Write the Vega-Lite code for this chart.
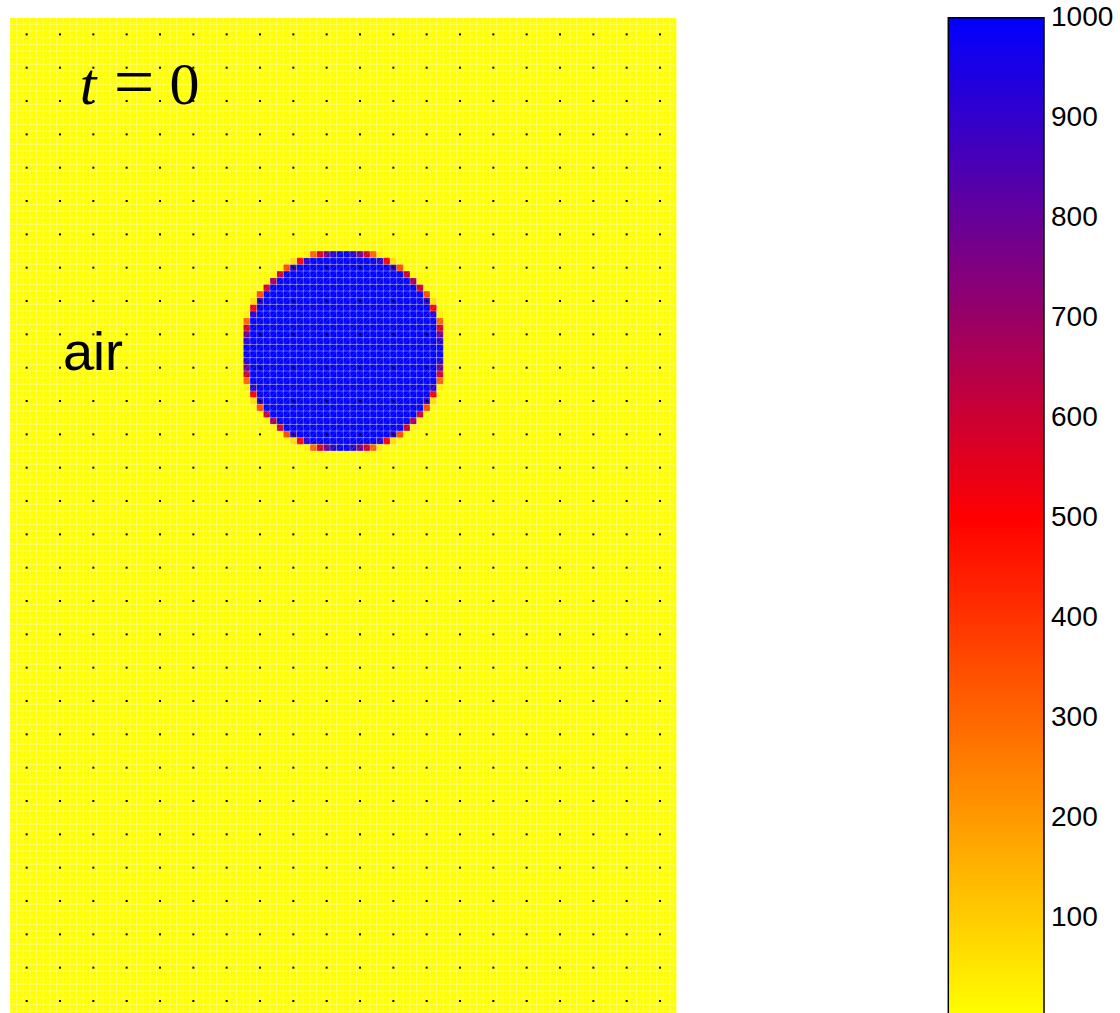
{
"$schema": "https://vega.github.io/schema/vega-lite/v6.json",
"width": 666.67,
"height": 995.3,
"autosize": {"type": "none"},
"padding": {"left": 10, "top": 17.7, "right": 443.33, "bottom": 0},
"background": "white",
"config": {
  "view": {"stroke": null},
  "axis": {"grid": false, "labels": false, "ticks": false, "domain": false}
},
"datasets": {
  "cells": [
    {"x":0,"x2":100,"y":0,"y2":150,"v":1},
    {"x":45,"x2":55,"y":36,"y2":37,"v":1000},
    {"x":43,"x2":57,"y":37,"y2":38,"v":1000},
    {"x":41,"x2":59,"y":38,"y2":39,"v":1000},
    {"x":40,"x2":60,"y":39,"y2":40,"v":1000},
    {"x":39,"x2":61,"y":40,"y2":41,"v":1000},
    {"x":38,"x2":62,"y":41,"y2":42,"v":1000},
    {"x":38,"x2":62,"y":42,"y2":43,"v":1000},
    {"x":37,"x2":63,"y":43,"y2":44,"v":1000},
    {"x":37,"x2":63,"y":44,"y2":45,"v":1000},
    {"x":36,"x2":64,"y":45,"y2":46,"v":1000},
    {"x":36,"x2":64,"y":46,"y2":47,"v":1000},
    {"x":36,"x2":64,"y":47,"y2":48,"v":1000},
    {"x":36,"x2":64,"y":48,"y2":49,"v":1000},
    {"x":36,"x2":64,"y":49,"y2":50,"v":1000},
    {"x":36,"x2":64,"y":50,"y2":51,"v":1000},
    {"x":36,"x2":64,"y":51,"y2":52,"v":1000},
    {"x":36,"x2":64,"y":52,"y2":53,"v":1000},
    {"x":36,"x2":64,"y":53,"y2":54,"v":1000},
    {"x":36,"x2":64,"y":54,"y2":55,"v":1000},
    {"x":37,"x2":63,"y":55,"y2":56,"v":1000},
    {"x":37,"x2":63,"y":56,"y2":57,"v":1000},
    {"x":38,"x2":62,"y":57,"y2":58,"v":1000},
    {"x":38,"x2":62,"y":58,"y2":59,"v":1000},
    {"x":39,"x2":61,"y":59,"y2":60,"v":1000},
    {"x":40,"x2":60,"y":60,"y2":61,"v":1000},
    {"x":41,"x2":59,"y":61,"y2":62,"v":1000},
    {"x":43,"x2":57,"y":62,"y2":63,"v":1000},
    {"x":45,"x2":55,"y":63,"y2":64,"v":1000},
    {"x":64,"x2":65,"y":50,"y2":51,"v":989},{"x":35,"x2":36,"y":50,"y2":51,"v":989},{"x":64,"x2":65,"y":49,"y2":50,"v":989},{"x":35,"x2":36,"y":49,"y2":50,"v":989},
    {"x":50,"x2":51,"y":64,"y2":65,"v":989},{"x":49,"x2":50,"y":64,"y2":65,"v":989},{"x":50,"x2":51,"y":35,"y2":36,"v":989},{"x":49,"x2":50,"y":35,"y2":36,"v":989},
    {"x":64,"x2":65,"y":51,"y2":52,"v":922},{"x":35,"x2":36,"y":51,"y2":52,"v":922},{"x":64,"x2":65,"y":48,"y2":49,"v":922},{"x":35,"x2":36,"y":48,"y2":49,"v":922},
    {"x":51,"x2":52,"y":64,"y2":65,"v":922},{"x":48,"x2":49,"y":64,"y2":65,"v":922},{"x":51,"x2":52,"y":35,"y2":36,"v":922},{"x":48,"x2":49,"y":35,"y2":36,"v":922},
    {"x":64,"x2":65,"y":52,"y2":53,"v":787},{"x":35,"x2":36,"y":52,"y2":53,"v":787},{"x":64,"x2":65,"y":47,"y2":48,"v":787},{"x":35,"x2":36,"y":47,"y2":48,"v":787},
    {"x":52,"x2":53,"y":64,"y2":65,"v":787},{"x":47,"x2":48,"y":64,"y2":65,"v":787},{"x":52,"x2":53,"y":35,"y2":36,"v":787},{"x":47,"x2":48,"y":35,"y2":36,"v":787},
    {"x":64,"x2":65,"y":53,"y2":54,"v":583},{"x":35,"x2":36,"y":53,"y2":54,"v":583},{"x":64,"x2":65,"y":46,"y2":47,"v":583},{"x":35,"x2":36,"y":46,"y2":47,"v":583},
    {"x":53,"x2":54,"y":64,"y2":65,"v":583},{"x":46,"x2":47,"y":64,"y2":65,"v":583},{"x":53,"x2":54,"y":35,"y2":36,"v":583},{"x":46,"x2":47,"y":35,"y2":36,"v":583},
    {"x":64,"x2":65,"y":54,"y2":55,"v":306},{"x":35,"x2":36,"y":54,"y2":55,"v":306},{"x":64,"x2":65,"y":45,"y2":46,"v":306},{"x":35,"x2":36,"y":45,"y2":46,"v":306},
    {"x":54,"x2":55,"y":64,"y2":65,"v":306},{"x":45,"x2":46,"y":64,"y2":65,"v":306},{"x":54,"x2":55,"y":35,"y2":36,"v":306},{"x":45,"x2":46,"y":35,"y2":36,"v":306},
    {"x":63,"x2":64,"y":55,"y2":56,"v":925},{"x":36,"x2":37,"y":55,"y2":56,"v":925},{"x":63,"x2":64,"y":44,"y2":45,"v":925},{"x":36,"x2":37,"y":44,"y2":45,"v":925},
    {"x":55,"x2":56,"y":63,"y2":64,"v":925},{"x":44,"x2":45,"y":63,"y2":64,"v":925},{"x":55,"x2":56,"y":36,"y2":37,"v":925},{"x":44,"x2":45,"y":36,"y2":37,"v":925},
    {"x":64,"x2":65,"y":55,"y2":56,"v":27},{"x":35,"x2":36,"y":55,"y2":56,"v":27},{"x":64,"x2":65,"y":44,"y2":45,"v":27},{"x":35,"x2":36,"y":44,"y2":45,"v":27},
    {"x":55,"x2":56,"y":64,"y2":65,"v":27},{"x":44,"x2":45,"y":64,"y2":65,"v":27},{"x":55,"x2":56,"y":35,"y2":36,"v":27},{"x":44,"x2":45,"y":35,"y2":36,"v":27},
    {"x":63,"x2":64,"y":56,"y2":57,"v":515},{"x":36,"x2":37,"y":56,"y2":57,"v":515},{"x":63,"x2":64,"y":43,"y2":44,"v":515},{"x":36,"x2":37,"y":43,"y2":44,"v":515},
    {"x":56,"x2":57,"y":63,"y2":64,"v":515},{"x":43,"x2":44,"y":63,"y2":64,"v":515},{"x":56,"x2":57,"y":36,"y2":37,"v":515},{"x":43,"x2":44,"y":36,"y2":37,"v":515},
    {"x":62,"x2":63,"y":57,"y2":58,"v":921},{"x":37,"x2":38,"y":57,"y2":58,"v":921},{"x":62,"x2":63,"y":42,"y2":43,"v":921},{"x":37,"x2":38,"y":42,"y2":43,"v":921},
    {"x":57,"x2":58,"y":62,"y2":63,"v":921},{"x":42,"x2":43,"y":62,"y2":63,"v":921},{"x":57,"x2":58,"y":37,"y2":38,"v":921},{"x":42,"x2":43,"y":37,"y2":38,"v":921},
    {"x":63,"x2":64,"y":57,"y2":58,"v":66},{"x":36,"x2":37,"y":57,"y2":58,"v":66},{"x":63,"x2":64,"y":42,"y2":43,"v":66},{"x":36,"x2":37,"y":42,"y2":43,"v":66},
    {"x":57,"x2":58,"y":63,"y2":64,"v":66},{"x":42,"x2":43,"y":63,"y2":64,"v":66},{"x":57,"x2":58,"y":36,"y2":37,"v":66},{"x":42,"x2":43,"y":36,"y2":37,"v":66},
    {"x":62,"x2":63,"y":58,"y2":59,"v":354},{"x":37,"x2":38,"y":58,"y2":59,"v":354},{"x":62,"x2":63,"y":41,"y2":42,"v":354},{"x":37,"x2":38,"y":41,"y2":42,"v":354},
    {"x":58,"x2":59,"y":62,"y2":63,"v":354},{"x":41,"x2":42,"y":62,"y2":63,"v":354},{"x":58,"x2":59,"y":37,"y2":38,"v":354},{"x":41,"x2":42,"y":37,"y2":38,"v":354},
    {"x":61,"x2":62,"y":59,"y2":60,"v":602},{"x":38,"x2":39,"y":59,"y2":60,"v":602},{"x":61,"x2":62,"y":40,"y2":41,"v":602},{"x":38,"x2":39,"y":40,"y2":41,"v":602},
    {"x":59,"x2":60,"y":61,"y2":62,"v":602},{"x":40,"x2":41,"y":61,"y2":62,"v":602},{"x":59,"x2":60,"y":38,"y2":39,"v":602},{"x":40,"x2":41,"y":38,"y2":39,"v":602},
    {"x":60,"x2":61,"y":60,"y2":61,"v":686},{"x":39,"x2":40,"y":60,"y2":61,"v":686},{"x":60,"x2":61,"y":39,"y2":40,"v":686},{"x":39,"x2":40,"y":39,"y2":40,"v":686},
    {"x":61,"x2":62,"y":60,"y2":61,"v":18},{"x":38,"x2":39,"y":60,"y2":61,"v":18},{"x":61,"x2":62,"y":39,"y2":40,"v":18},{"x":38,"x2":39,"y":39,"y2":40,"v":18},
    {"x":60,"x2":61,"y":61,"y2":62,"v":18},{"x":39,"x2":40,"y":61,"y2":62,"v":18},{"x":60,"x2":61,"y":38,"y2":39,"v":18},{"x":39,"x2":40,"y":38,"y2":39,"v":18}
  ],
  "gridx": [
    {"x":0},{"x":1},{"x":2},{"x":3},{"x":4},{"x":5},{"x":6},{"x":7},{"x":8},{"x":9},{"x":10},{"x":11},{"x":12},{"x":13},{"x":14},{"x":15},{"x":16},{"x":17},{"x":18},{"x":19},
    {"x":20},{"x":21},{"x":22},{"x":23},{"x":24},{"x":25},{"x":26},{"x":27},{"x":28},{"x":29},{"x":30},{"x":31},{"x":32},{"x":33},{"x":34},{"x":35},{"x":36},{"x":37},{"x":38},{"x":39},
    {"x":40},{"x":41},{"x":42},{"x":43},{"x":44},{"x":45},{"x":46},{"x":47},{"x":48},{"x":49},{"x":50},{"x":51},{"x":52},{"x":53},{"x":54},{"x":55},{"x":56},{"x":57},{"x":58},{"x":59},
    {"x":60},{"x":61},{"x":62},{"x":63},{"x":64},{"x":65},{"x":66},{"x":67},{"x":68},{"x":69},{"x":70},{"x":71},{"x":72},{"x":73},{"x":74},{"x":75},{"x":76},{"x":77},{"x":78},{"x":79},
    {"x":80},{"x":81},{"x":82},{"x":83},{"x":84},{"x":85},{"x":86},{"x":87},{"x":88},{"x":89},{"x":90},{"x":91},{"x":92},{"x":93},{"x":94},{"x":95},{"x":96},{"x":97},{"x":98},{"x":99},{"x":100}
  ],
  "gridy": [
    {"y":0},{"y":1},{"y":2},{"y":3},{"y":4},{"y":5},{"y":6},{"y":7},{"y":8},{"y":9},{"y":10},{"y":11},{"y":12},{"y":13},{"y":14},{"y":15},{"y":16},{"y":17},{"y":18},{"y":19},
    {"y":20},{"y":21},{"y":22},{"y":23},{"y":24},{"y":25},{"y":26},{"y":27},{"y":28},{"y":29},{"y":30},{"y":31},{"y":32},{"y":33},{"y":34},{"y":35},{"y":36},{"y":37},{"y":38},{"y":39},
    {"y":40},{"y":41},{"y":42},{"y":43},{"y":44},{"y":45},{"y":46},{"y":47},{"y":48},{"y":49},{"y":50},{"y":51},{"y":52},{"y":53},{"y":54},{"y":55},{"y":56},{"y":57},{"y":58},{"y":59},
    {"y":60},{"y":61},{"y":62},{"y":63},{"y":64},{"y":65},{"y":66},{"y":67},{"y":68},{"y":69},{"y":70},{"y":71},{"y":72},{"y":73},{"y":74},{"y":75},{"y":76},{"y":77},{"y":78},{"y":79},
    {"y":80},{"y":81},{"y":82},{"y":83},{"y":84},{"y":85},{"y":86},{"y":87},{"y":88},{"y":89},{"y":90},{"y":91},{"y":92},{"y":93},{"y":94},{"y":95},{"y":96},{"y":97},{"y":98},{"y":99},
    {"y":100},{"y":101},{"y":102},{"y":103},{"y":104},{"y":105},{"y":106},{"y":107},{"y":108},{"y":109},{"y":110},{"y":111},{"y":112},{"y":113},{"y":114},{"y":115},{"y":116},{"y":117},{"y":118},{"y":119},
    {"y":120},{"y":121},{"y":122},{"y":123},{"y":124},{"y":125},{"y":126},{"y":127},{"y":128},{"y":129},{"y":130},{"y":131},{"y":132},{"y":133},{"y":134},{"y":135},{"y":136},{"y":137},{"y":138},{"y":139},
    {"y":140},{"y":141},{"y":142},{"y":143},{"y":144},{"y":145},{"y":146},{"y":147},{"y":148},{"y":149}
  ],
  "diag": [
    {"x":1,"x2":-149},{"x":2,"x2":-148},{"x":3,"x2":-147},{"x":4,"x2":-146},{"x":5,"x2":-145},{"x":6,"x2":-144},{"x":7,"x2":-143},{"x":8,"x2":-142},{"x":9,"x2":-141},{"x":10,"x2":-140},
    {"x":11,"x2":-139},{"x":12,"x2":-138},{"x":13,"x2":-137},{"x":14,"x2":-136},{"x":15,"x2":-135},{"x":16,"x2":-134},{"x":17,"x2":-133},{"x":18,"x2":-132},{"x":19,"x2":-131},{"x":20,"x2":-130},
    {"x":21,"x2":-129},{"x":22,"x2":-128},{"x":23,"x2":-127},{"x":24,"x2":-126},{"x":25,"x2":-125},{"x":26,"x2":-124},{"x":27,"x2":-123},{"x":28,"x2":-122},{"x":29,"x2":-121},{"x":30,"x2":-120},
    {"x":31,"x2":-119},{"x":32,"x2":-118},{"x":33,"x2":-117},{"x":34,"x2":-116},{"x":35,"x2":-115},{"x":36,"x2":-114},{"x":37,"x2":-113},{"x":38,"x2":-112},{"x":39,"x2":-111},{"x":40,"x2":-110},
    {"x":41,"x2":-109},{"x":42,"x2":-108},{"x":43,"x2":-107},{"x":44,"x2":-106},{"x":45,"x2":-105},{"x":46,"x2":-104},{"x":47,"x2":-103},{"x":48,"x2":-102},{"x":49,"x2":-101},{"x":50,"x2":-100},
    {"x":51,"x2":-99},{"x":52,"x2":-98},{"x":53,"x2":-97},{"x":54,"x2":-96},{"x":55,"x2":-95},{"x":56,"x2":-94},{"x":57,"x2":-93},{"x":58,"x2":-92},{"x":59,"x2":-91},{"x":60,"x2":-90},
    {"x":61,"x2":-89},{"x":62,"x2":-88},{"x":63,"x2":-87},{"x":64,"x2":-86},{"x":65,"x2":-85},{"x":66,"x2":-84},{"x":67,"x2":-83},{"x":68,"x2":-82},{"x":69,"x2":-81},{"x":70,"x2":-80},
    {"x":71,"x2":-79},{"x":72,"x2":-78},{"x":73,"x2":-77},{"x":74,"x2":-76},{"x":75,"x2":-75},{"x":76,"x2":-74},{"x":77,"x2":-73},{"x":78,"x2":-72},{"x":79,"x2":-71},{"x":80,"x2":-70},
    {"x":81,"x2":-69},{"x":82,"x2":-68},{"x":83,"x2":-67},{"x":84,"x2":-66},{"x":85,"x2":-65},{"x":86,"x2":-64},{"x":87,"x2":-63},{"x":88,"x2":-62},{"x":89,"x2":-61},{"x":90,"x2":-60},
    {"x":91,"x2":-59},{"x":92,"x2":-58},{"x":93,"x2":-57},{"x":94,"x2":-56},{"x":95,"x2":-55},{"x":96,"x2":-54},{"x":97,"x2":-53},{"x":98,"x2":-52},{"x":99,"x2":-51},{"x":100,"x2":-50},
    {"x":101,"x2":-49},{"x":102,"x2":-48},{"x":103,"x2":-47},{"x":104,"x2":-46},{"x":105,"x2":-45},{"x":106,"x2":-44},{"x":107,"x2":-43},{"x":108,"x2":-42},{"x":109,"x2":-41},{"x":110,"x2":-40},
    {"x":111,"x2":-39},{"x":112,"x2":-38},{"x":113,"x2":-37},{"x":114,"x2":-36},{"x":115,"x2":-35},{"x":116,"x2":-34},{"x":117,"x2":-33},{"x":118,"x2":-32},{"x":119,"x2":-31},{"x":120,"x2":-30},
    {"x":121,"x2":-29},{"x":122,"x2":-28},{"x":123,"x2":-27},{"x":124,"x2":-26},{"x":125,"x2":-25},{"x":126,"x2":-24},{"x":127,"x2":-23},{"x":128,"x2":-22},{"x":129,"x2":-21},{"x":130,"x2":-20},
    {"x":131,"x2":-19},{"x":132,"x2":-18},{"x":133,"x2":-17},{"x":134,"x2":-16},{"x":135,"x2":-15},{"x":136,"x2":-14},{"x":137,"x2":-13},{"x":138,"x2":-12},{"x":139,"x2":-11},{"x":140,"x2":-10},
    {"x":141,"x2":-9},{"x":142,"x2":-8},{"x":143,"x2":-7},{"x":144,"x2":-6},{"x":145,"x2":-5},{"x":146,"x2":-4},{"x":147,"x2":-3},{"x":148,"x2":-2},{"x":149,"x2":-1},{"x":150,"x2":0},
    {"x":151,"x2":1},{"x":152,"x2":2},{"x":153,"x2":3},{"x":154,"x2":4},{"x":155,"x2":5},{"x":156,"x2":6},{"x":157,"x2":7},{"x":158,"x2":8},{"x":159,"x2":9},{"x":160,"x2":10},
    {"x":161,"x2":11},{"x":162,"x2":12},{"x":163,"x2":13},{"x":164,"x2":14},{"x":165,"x2":15},{"x":166,"x2":16},{"x":167,"x2":17},{"x":168,"x2":18},{"x":169,"x2":19},{"x":170,"x2":20},
    {"x":171,"x2":21},{"x":172,"x2":22},{"x":173,"x2":23},{"x":174,"x2":24},{"x":175,"x2":25},{"x":176,"x2":26},{"x":177,"x2":27},{"x":178,"x2":28},{"x":179,"x2":29},{"x":180,"x2":30},
    {"x":181,"x2":31},{"x":182,"x2":32},{"x":183,"x2":33},{"x":184,"x2":34},{"x":185,"x2":35},{"x":186,"x2":36},{"x":187,"x2":37},{"x":188,"x2":38},{"x":189,"x2":39},{"x":190,"x2":40},
    {"x":191,"x2":41},{"x":192,"x2":42},{"x":193,"x2":43},{"x":194,"x2":44},{"x":195,"x2":45},{"x":196,"x2":46},{"x":197,"x2":47},{"x":198,"x2":48},{"x":199,"x2":49},{"x":200,"x2":50},
    {"x":201,"x2":51},{"x":202,"x2":52},{"x":203,"x2":53},{"x":204,"x2":54},{"x":205,"x2":55},{"x":206,"x2":56},{"x":207,"x2":57},{"x":208,"x2":58},{"x":209,"x2":59},{"x":210,"x2":60},
    {"x":211,"x2":61},{"x":212,"x2":62},{"x":213,"x2":63},{"x":214,"x2":64},{"x":215,"x2":65},{"x":216,"x2":66},{"x":217,"x2":67},{"x":218,"x2":68},{"x":219,"x2":69},{"x":220,"x2":70},
    {"x":221,"x2":71},{"x":222,"x2":72},{"x":223,"x2":73},{"x":224,"x2":74},{"x":225,"x2":75},{"x":226,"x2":76},{"x":227,"x2":77},{"x":228,"x2":78},{"x":229,"x2":79},{"x":230,"x2":80},
    {"x":231,"x2":81},{"x":232,"x2":82},{"x":233,"x2":83},{"x":234,"x2":84},{"x":235,"x2":85},{"x":236,"x2":86},{"x":237,"x2":87},{"x":238,"x2":88},{"x":239,"x2":89},{"x":240,"x2":90},
    {"x":241,"x2":91},{"x":242,"x2":92},{"x":243,"x2":93},{"x":244,"x2":94},{"x":245,"x2":95},{"x":246,"x2":96},{"x":247,"x2":97},{"x":248,"x2":98},{"x":249,"x2":99}
  ],
  "dots": [
    {"x":2.5,"y":2.5},{"x":7.5,"y":2.5},{"x":12.5,"y":2.5},{"x":17.5,"y":2.5},{"x":22.5,"y":2.5},{"x":27.5,"y":2.5},{"x":32.5,"y":2.5},{"x":37.5,"y":2.5},{"x":42.5,"y":2.5},{"x":47.5,"y":2.5},{"x":52.5,"y":2.5},{"x":57.5,"y":2.5},{"x":62.5,"y":2.5},{"x":67.5,"y":2.5},{"x":72.5,"y":2.5},{"x":77.5,"y":2.5},{"x":82.5,"y":2.5},{"x":87.5,"y":2.5},{"x":92.5,"y":2.5},{"x":97.5,"y":2.5},
    {"x":2.5,"y":7.5},{"x":7.5,"y":7.5},{"x":12.5,"y":7.5},{"x":17.5,"y":7.5},{"x":22.5,"y":7.5},{"x":27.5,"y":7.5},{"x":32.5,"y":7.5},{"x":37.5,"y":7.5},{"x":42.5,"y":7.5},{"x":47.5,"y":7.5},{"x":52.5,"y":7.5},{"x":57.5,"y":7.5},{"x":62.5,"y":7.5},{"x":67.5,"y":7.5},{"x":72.5,"y":7.5},{"x":77.5,"y":7.5},{"x":82.5,"y":7.5},{"x":87.5,"y":7.5},{"x":92.5,"y":7.5},{"x":97.5,"y":7.5},
    {"x":2.5,"y":12.5},{"x":7.5,"y":12.5},{"x":12.5,"y":12.5},{"x":17.5,"y":12.5},{"x":22.5,"y":12.5},{"x":27.5,"y":12.5},{"x":32.5,"y":12.5},{"x":37.5,"y":12.5},{"x":42.5,"y":12.5},{"x":47.5,"y":12.5},{"x":52.5,"y":12.5},{"x":57.5,"y":12.5},{"x":62.5,"y":12.5},{"x":67.5,"y":12.5},{"x":72.5,"y":12.5},{"x":77.5,"y":12.5},{"x":82.5,"y":12.5},{"x":87.5,"y":12.5},{"x":92.5,"y":12.5},{"x":97.5,"y":12.5},
    {"x":2.5,"y":17.5},{"x":7.5,"y":17.5},{"x":12.5,"y":17.5},{"x":17.5,"y":17.5},{"x":22.5,"y":17.5},{"x":27.5,"y":17.5},{"x":32.5,"y":17.5},{"x":37.5,"y":17.5},{"x":42.5,"y":17.5},{"x":47.5,"y":17.5},{"x":52.5,"y":17.5},{"x":57.5,"y":17.5},{"x":62.5,"y":17.5},{"x":67.5,"y":17.5},{"x":72.5,"y":17.5},{"x":77.5,"y":17.5},{"x":82.5,"y":17.5},{"x":87.5,"y":17.5},{"x":92.5,"y":17.5},{"x":97.5,"y":17.5},
    {"x":2.5,"y":22.5},{"x":7.5,"y":22.5},{"x":12.5,"y":22.5},{"x":17.5,"y":22.5},{"x":22.5,"y":22.5},{"x":27.5,"y":22.5},{"x":32.5,"y":22.5},{"x":37.5,"y":22.5},{"x":42.5,"y":22.5},{"x":47.5,"y":22.5},{"x":52.5,"y":22.5},{"x":57.5,"y":22.5},{"x":62.5,"y":22.5},{"x":67.5,"y":22.5},{"x":72.5,"y":22.5},{"x":77.5,"y":22.5},{"x":82.5,"y":22.5},{"x":87.5,"y":22.5},{"x":92.5,"y":22.5},{"x":97.5,"y":22.5},
    {"x":2.5,"y":27.5},{"x":7.5,"y":27.5},{"x":12.5,"y":27.5},{"x":17.5,"y":27.5},{"x":22.5,"y":27.5},{"x":27.5,"y":27.5},{"x":32.5,"y":27.5},{"x":37.5,"y":27.5},{"x":42.5,"y":27.5},{"x":47.5,"y":27.5},{"x":52.5,"y":27.5},{"x":57.5,"y":27.5},{"x":62.5,"y":27.5},{"x":67.5,"y":27.5},{"x":72.5,"y":27.5},{"x":77.5,"y":27.5},{"x":82.5,"y":27.5},{"x":87.5,"y":27.5},{"x":92.5,"y":27.5},{"x":97.5,"y":27.5},
    {"x":2.5,"y":32.5},{"x":7.5,"y":32.5},{"x":12.5,"y":32.5},{"x":17.5,"y":32.5},{"x":22.5,"y":32.5},{"x":27.5,"y":32.5},{"x":32.5,"y":32.5},{"x":37.5,"y":32.5},{"x":42.5,"y":32.5},{"x":47.5,"y":32.5},{"x":52.5,"y":32.5},{"x":57.5,"y":32.5},{"x":62.5,"y":32.5},{"x":67.5,"y":32.5},{"x":72.5,"y":32.5},{"x":77.5,"y":32.5},{"x":82.5,"y":32.5},{"x":87.5,"y":32.5},{"x":92.5,"y":32.5},{"x":97.5,"y":32.5},
    {"x":2.5,"y":37.5},{"x":7.5,"y":37.5},{"x":12.5,"y":37.5},{"x":17.5,"y":37.5},{"x":22.5,"y":37.5},{"x":27.5,"y":37.5},{"x":32.5,"y":37.5},{"x":37.5,"y":37.5},{"x":42.5,"y":37.5},{"x":47.5,"y":37.5},{"x":52.5,"y":37.5},{"x":57.5,"y":37.5},{"x":62.5,"y":37.5},{"x":67.5,"y":37.5},{"x":72.5,"y":37.5},{"x":77.5,"y":37.5},{"x":82.5,"y":37.5},{"x":87.5,"y":37.5},{"x":92.5,"y":37.5},{"x":97.5,"y":37.5},
    {"x":2.5,"y":42.5},{"x":7.5,"y":42.5},{"x":12.5,"y":42.5},{"x":17.5,"y":42.5},{"x":22.5,"y":42.5},{"x":27.5,"y":42.5},{"x":32.5,"y":42.5},{"x":37.5,"y":42.5},{"x":42.5,"y":42.5},{"x":47.5,"y":42.5},{"x":52.5,"y":42.5},{"x":57.5,"y":42.5},{"x":62.5,"y":42.5},{"x":67.5,"y":42.5},{"x":72.5,"y":42.5},{"x":77.5,"y":42.5},{"x":82.5,"y":42.5},{"x":87.5,"y":42.5},{"x":92.5,"y":42.5},{"x":97.5,"y":42.5},
    {"x":2.5,"y":47.5},{"x":7.5,"y":47.5},{"x":12.5,"y":47.5},{"x":17.5,"y":47.5},{"x":22.5,"y":47.5},{"x":27.5,"y":47.5},{"x":32.5,"y":47.5},{"x":37.5,"y":47.5},{"x":42.5,"y":47.5},{"x":47.5,"y":47.5},{"x":52.5,"y":47.5},{"x":57.5,"y":47.5},{"x":62.5,"y":47.5},{"x":67.5,"y":47.5},{"x":72.5,"y":47.5},{"x":77.5,"y":47.5},{"x":82.5,"y":47.5},{"x":87.5,"y":47.5},{"x":92.5,"y":47.5},{"x":97.5,"y":47.5},
    {"x":2.5,"y":52.5},{"x":7.5,"y":52.5},{"x":12.5,"y":52.5},{"x":17.5,"y":52.5},{"x":22.5,"y":52.5},{"x":27.5,"y":52.5},{"x":32.5,"y":52.5},{"x":37.5,"y":52.5},{"x":42.5,"y":52.5},{"x":47.5,"y":52.5},{"x":52.5,"y":52.5},{"x":57.5,"y":52.5},{"x":62.5,"y":52.5},{"x":67.5,"y":52.5},{"x":72.5,"y":52.5},{"x":77.5,"y":52.5},{"x":82.5,"y":52.5},{"x":87.5,"y":52.5},{"x":92.5,"y":52.5},{"x":97.5,"y":52.5},
    {"x":2.5,"y":57.5},{"x":7.5,"y":57.5},{"x":12.5,"y":57.5},{"x":17.5,"y":57.5},{"x":22.5,"y":57.5},{"x":27.5,"y":57.5},{"x":32.5,"y":57.5},{"x":37.5,"y":57.5},{"x":42.5,"y":57.5},{"x":47.5,"y":57.5},{"x":52.5,"y":57.5},{"x":57.5,"y":57.5},{"x":62.5,"y":57.5},{"x":67.5,"y":57.5},{"x":72.5,"y":57.5},{"x":77.5,"y":57.5},{"x":82.5,"y":57.5},{"x":87.5,"y":57.5},{"x":92.5,"y":57.5},{"x":97.5,"y":57.5},
    {"x":2.5,"y":62.5},{"x":7.5,"y":62.5},{"x":12.5,"y":62.5},{"x":17.5,"y":62.5},{"x":22.5,"y":62.5},{"x":27.5,"y":62.5},{"x":32.5,"y":62.5},{"x":37.5,"y":62.5},{"x":42.5,"y":62.5},{"x":47.5,"y":62.5},{"x":52.5,"y":62.5},{"x":57.5,"y":62.5},{"x":62.5,"y":62.5},{"x":67.5,"y":62.5},{"x":72.5,"y":62.5},{"x":77.5,"y":62.5},{"x":82.5,"y":62.5},{"x":87.5,"y":62.5},{"x":92.5,"y":62.5},{"x":97.5,"y":62.5},
    {"x":2.5,"y":67.5},{"x":7.5,"y":67.5},{"x":12.5,"y":67.5},{"x":17.5,"y":67.5},{"x":22.5,"y":67.5},{"x":27.5,"y":67.5},{"x":32.5,"y":67.5},{"x":37.5,"y":67.5},{"x":42.5,"y":67.5},{"x":47.5,"y":67.5},{"x":52.5,"y":67.5},{"x":57.5,"y":67.5},{"x":62.5,"y":67.5},{"x":67.5,"y":67.5},{"x":72.5,"y":67.5},{"x":77.5,"y":67.5},{"x":82.5,"y":67.5},{"x":87.5,"y":67.5},{"x":92.5,"y":67.5},{"x":97.5,"y":67.5},
    {"x":2.5,"y":72.5},{"x":7.5,"y":72.5},{"x":12.5,"y":72.5},{"x":17.5,"y":72.5},{"x":22.5,"y":72.5},{"x":27.5,"y":72.5},{"x":32.5,"y":72.5},{"x":37.5,"y":72.5},{"x":42.5,"y":72.5},{"x":47.5,"y":72.5},{"x":52.5,"y":72.5},{"x":57.5,"y":72.5},{"x":62.5,"y":72.5},{"x":67.5,"y":72.5},{"x":72.5,"y":72.5},{"x":77.5,"y":72.5},{"x":82.5,"y":72.5},{"x":87.5,"y":72.5},{"x":92.5,"y":72.5},{"x":97.5,"y":72.5},
    {"x":2.5,"y":77.5},{"x":7.5,"y":77.5},{"x":12.5,"y":77.5},{"x":17.5,"y":77.5},{"x":22.5,"y":77.5},{"x":27.5,"y":77.5},{"x":32.5,"y":77.5},{"x":37.5,"y":77.5},{"x":42.5,"y":77.5},{"x":47.5,"y":77.5},{"x":52.5,"y":77.5},{"x":57.5,"y":77.5},{"x":62.5,"y":77.5},{"x":67.5,"y":77.5},{"x":72.5,"y":77.5},{"x":77.5,"y":77.5},{"x":82.5,"y":77.5},{"x":87.5,"y":77.5},{"x":92.5,"y":77.5},{"x":97.5,"y":77.5},
    {"x":2.5,"y":82.5},{"x":7.5,"y":82.5},{"x":12.5,"y":82.5},{"x":17.5,"y":82.5},{"x":22.5,"y":82.5},{"x":27.5,"y":82.5},{"x":32.5,"y":82.5},{"x":37.5,"y":82.5},{"x":42.5,"y":82.5},{"x":47.5,"y":82.5},{"x":52.5,"y":82.5},{"x":57.5,"y":82.5},{"x":62.5,"y":82.5},{"x":67.5,"y":82.5},{"x":72.5,"y":82.5},{"x":77.5,"y":82.5},{"x":82.5,"y":82.5},{"x":87.5,"y":82.5},{"x":92.5,"y":82.5},{"x":97.5,"y":82.5},
    {"x":2.5,"y":87.5},{"x":7.5,"y":87.5},{"x":12.5,"y":87.5},{"x":17.5,"y":87.5},{"x":22.5,"y":87.5},{"x":27.5,"y":87.5},{"x":32.5,"y":87.5},{"x":37.5,"y":87.5},{"x":42.5,"y":87.5},{"x":47.5,"y":87.5},{"x":52.5,"y":87.5},{"x":57.5,"y":87.5},{"x":62.5,"y":87.5},{"x":67.5,"y":87.5},{"x":72.5,"y":87.5},{"x":77.5,"y":87.5},{"x":82.5,"y":87.5},{"x":87.5,"y":87.5},{"x":92.5,"y":87.5},{"x":97.5,"y":87.5},
    {"x":2.5,"y":92.5},{"x":7.5,"y":92.5},{"x":12.5,"y":92.5},{"x":17.5,"y":92.5},{"x":22.5,"y":92.5},{"x":27.5,"y":92.5},{"x":32.5,"y":92.5},{"x":37.5,"y":92.5},{"x":42.5,"y":92.5},{"x":47.5,"y":92.5},{"x":52.5,"y":92.5},{"x":57.5,"y":92.5},{"x":62.5,"y":92.5},{"x":67.5,"y":92.5},{"x":72.5,"y":92.5},{"x":77.5,"y":92.5},{"x":82.5,"y":92.5},{"x":87.5,"y":92.5},{"x":92.5,"y":92.5},{"x":97.5,"y":92.5},
    {"x":2.5,"y":97.5},{"x":7.5,"y":97.5},{"x":12.5,"y":97.5},{"x":17.5,"y":97.5},{"x":22.5,"y":97.5},{"x":27.5,"y":97.5},{"x":32.5,"y":97.5},{"x":37.5,"y":97.5},{"x":42.5,"y":97.5},{"x":47.5,"y":97.5},{"x":52.5,"y":97.5},{"x":57.5,"y":97.5},{"x":62.5,"y":97.5},{"x":67.5,"y":97.5},{"x":72.5,"y":97.5},{"x":77.5,"y":97.5},{"x":82.5,"y":97.5},{"x":87.5,"y":97.5},{"x":92.5,"y":97.5},{"x":97.5,"y":97.5},
    {"x":2.5,"y":102.5},{"x":7.5,"y":102.5},{"x":12.5,"y":102.5},{"x":17.5,"y":102.5},{"x":22.5,"y":102.5},{"x":27.5,"y":102.5},{"x":32.5,"y":102.5},{"x":37.5,"y":102.5},{"x":42.5,"y":102.5},{"x":47.5,"y":102.5},{"x":52.5,"y":102.5},{"x":57.5,"y":102.5},{"x":62.5,"y":102.5},{"x":67.5,"y":102.5},{"x":72.5,"y":102.5},{"x":77.5,"y":102.5},{"x":82.5,"y":102.5},{"x":87.5,"y":102.5},{"x":92.5,"y":102.5},{"x":97.5,"y":102.5},
    {"x":2.5,"y":107.5},{"x":7.5,"y":107.5},{"x":12.5,"y":107.5},{"x":17.5,"y":107.5},{"x":22.5,"y":107.5},{"x":27.5,"y":107.5},{"x":32.5,"y":107.5},{"x":37.5,"y":107.5},{"x":42.5,"y":107.5},{"x":47.5,"y":107.5},{"x":52.5,"y":107.5},{"x":57.5,"y":107.5},{"x":62.5,"y":107.5},{"x":67.5,"y":107.5},{"x":72.5,"y":107.5},{"x":77.5,"y":107.5},{"x":82.5,"y":107.5},{"x":87.5,"y":107.5},{"x":92.5,"y":107.5},{"x":97.5,"y":107.5},
    {"x":2.5,"y":112.5},{"x":7.5,"y":112.5},{"x":12.5,"y":112.5},{"x":17.5,"y":112.5},{"x":22.5,"y":112.5},{"x":27.5,"y":112.5},{"x":32.5,"y":112.5},{"x":37.5,"y":112.5},{"x":42.5,"y":112.5},{"x":47.5,"y":112.5},{"x":52.5,"y":112.5},{"x":57.5,"y":112.5},{"x":62.5,"y":112.5},{"x":67.5,"y":112.5},{"x":72.5,"y":112.5},{"x":77.5,"y":112.5},{"x":82.5,"y":112.5},{"x":87.5,"y":112.5},{"x":92.5,"y":112.5},{"x":97.5,"y":112.5},
    {"x":2.5,"y":117.5},{"x":7.5,"y":117.5},{"x":12.5,"y":117.5},{"x":17.5,"y":117.5},{"x":22.5,"y":117.5},{"x":27.5,"y":117.5},{"x":32.5,"y":117.5},{"x":37.5,"y":117.5},{"x":42.5,"y":117.5},{"x":47.5,"y":117.5},{"x":52.5,"y":117.5},{"x":57.5,"y":117.5},{"x":62.5,"y":117.5},{"x":67.5,"y":117.5},{"x":72.5,"y":117.5},{"x":77.5,"y":117.5},{"x":82.5,"y":117.5},{"x":87.5,"y":117.5},{"x":92.5,"y":117.5},{"x":97.5,"y":117.5},
    {"x":2.5,"y":122.5},{"x":7.5,"y":122.5},{"x":12.5,"y":122.5},{"x":17.5,"y":122.5},{"x":22.5,"y":122.5},{"x":27.5,"y":122.5},{"x":32.5,"y":122.5},{"x":37.5,"y":122.5},{"x":42.5,"y":122.5},{"x":47.5,"y":122.5},{"x":52.5,"y":122.5},{"x":57.5,"y":122.5},{"x":62.5,"y":122.5},{"x":67.5,"y":122.5},{"x":72.5,"y":122.5},{"x":77.5,"y":122.5},{"x":82.5,"y":122.5},{"x":87.5,"y":122.5},{"x":92.5,"y":122.5},{"x":97.5,"y":122.5},
    {"x":2.5,"y":127.5},{"x":7.5,"y":127.5},{"x":12.5,"y":127.5},{"x":17.5,"y":127.5},{"x":22.5,"y":127.5},{"x":27.5,"y":127.5},{"x":32.5,"y":127.5},{"x":37.5,"y":127.5},{"x":42.5,"y":127.5},{"x":47.5,"y":127.5},{"x":52.5,"y":127.5},{"x":57.5,"y":127.5},{"x":62.5,"y":127.5},{"x":67.5,"y":127.5},{"x":72.5,"y":127.5},{"x":77.5,"y":127.5},{"x":82.5,"y":127.5},{"x":87.5,"y":127.5},{"x":92.5,"y":127.5},{"x":97.5,"y":127.5},
    {"x":2.5,"y":132.5},{"x":7.5,"y":132.5},{"x":12.5,"y":132.5},{"x":17.5,"y":132.5},{"x":22.5,"y":132.5},{"x":27.5,"y":132.5},{"x":32.5,"y":132.5},{"x":37.5,"y":132.5},{"x":42.5,"y":132.5},{"x":47.5,"y":132.5},{"x":52.5,"y":132.5},{"x":57.5,"y":132.5},{"x":62.5,"y":132.5},{"x":67.5,"y":132.5},{"x":72.5,"y":132.5},{"x":77.5,"y":132.5},{"x":82.5,"y":132.5},{"x":87.5,"y":132.5},{"x":92.5,"y":132.5},{"x":97.5,"y":132.5},
    {"x":2.5,"y":137.5},{"x":7.5,"y":137.5},{"x":12.5,"y":137.5},{"x":17.5,"y":137.5},{"x":22.5,"y":137.5},{"x":27.5,"y":137.5},{"x":32.5,"y":137.5},{"x":37.5,"y":137.5},{"x":42.5,"y":137.5},{"x":47.5,"y":137.5},{"x":52.5,"y":137.5},{"x":57.5,"y":137.5},{"x":62.5,"y":137.5},{"x":67.5,"y":137.5},{"x":72.5,"y":137.5},{"x":77.5,"y":137.5},{"x":82.5,"y":137.5},{"x":87.5,"y":137.5},{"x":92.5,"y":137.5},{"x":97.5,"y":137.5},
    {"x":2.5,"y":142.5},{"x":7.5,"y":142.5},{"x":12.5,"y":142.5},{"x":17.5,"y":142.5},{"x":22.5,"y":142.5},{"x":27.5,"y":142.5},{"x":32.5,"y":142.5},{"x":37.5,"y":142.5},{"x":42.5,"y":142.5},{"x":47.5,"y":142.5},{"x":52.5,"y":142.5},{"x":57.5,"y":142.5},{"x":62.5,"y":142.5},{"x":67.5,"y":142.5},{"x":72.5,"y":142.5},{"x":77.5,"y":142.5},{"x":82.5,"y":142.5},{"x":87.5,"y":142.5},{"x":92.5,"y":142.5},{"x":97.5,"y":142.5},
    {"x":2.5,"y":147.5},{"x":7.5,"y":147.5},{"x":12.5,"y":147.5},{"x":17.5,"y":147.5},{"x":22.5,"y":147.5},{"x":27.5,"y":147.5},{"x":32.5,"y":147.5},{"x":37.5,"y":147.5},{"x":42.5,"y":147.5},{"x":47.5,"y":147.5},{"x":52.5,"y":147.5},{"x":57.5,"y":147.5},{"x":62.5,"y":147.5},{"x":67.5,"y":147.5},{"x":72.5,"y":147.5},{"x":77.5,"y":147.5},{"x":82.5,"y":147.5},{"x":87.5,"y":147.5},{"x":92.5,"y":147.5},{"x":97.5,"y":147.5}
  ],
  "notes": [
    {"label":"t","x":11.7,"y":12.95},
    {"label":"=","x":18.6,"y":13.3},
    {"label":"0","x":26.17,"y":12.95},
    {"label":"air","x":12.45,"y":52.9}
  ]
},
"layer": [
  {
    "data": {"name": "cells"},
    "mark": {"type": "rect", "clip": true, "strokeWidth": 0},
    "encoding": {
      "x": {"field": "x", "type": "quantitative", "scale": {"domain": [0, 100], "nice": false, "zero": false}, "axis": {"title": null}},
      "x2": {"field": "x2"},
      "y": {"field": "y", "type": "quantitative", "scale": {"domain": [0, 149.3], "nice": false, "zero": false, "reverse": true}, "axis": {"title": null}},
      "y2": {"field": "y2"},
      "color": {
        "field": "v", "type": "quantitative",
        "scale": {"type": "linear", "domain": [0, 500, 1000], "range": ["#ffff00", "#ff0000", "#0000ff"], "interpolate": "rgb"},
        "legend": {
          "orient": "none", "legendX": 938.3, "legendY": 0, "direction": "vertical",
          "gradientLength": 1000, "gradientThickness": 95.7,
          "gradientStrokeColor": "#000000", "gradientStrokeWidth": 1.5,
          "title": null, "padding": 0, "format": "d",
          "values": [100, 200, 300, 400, 500, 600, 700, 800, 900, 1000],
          "labelFont": "Liberation Sans", "labelFontSize": 28, "labelColor": "#000000",
          "labelOffset": 7, "labelOverlap": false, "labelBaseline": "middle",
          "encode": {"labels": {"update": {"baseline": {"value": "middle"}}}}
        }
      }
    }
  },
  {
    "data": {"name": "gridx"},
    "mark": {"type": "rule", "color": "#ffffff", "opacity": 0.33, "strokeWidth": 1, "clip": true},
    "encoding": {
      "x": {"field": "x", "type": "quantitative", "axis": {"title": null}}
    }
  },
  {
    "data": {"name": "gridy"},
    "mark": {"type": "rule", "color": "#ffffff", "opacity": 0.33, "strokeWidth": 1, "clip": true},
    "encoding": {
      "y": {"field": "y", "type": "quantitative", "axis": {"title": null}}
    }
  },
  {
    "data": {"name": "diag"},
    "mark": {"type": "rule", "color": "#ffffff", "opacity": 0.16, "strokeWidth": 1, "clip": true},
    "encoding": {
      "x": {"field": "x", "type": "quantitative", "axis": {"title": null}},
      "x2": {"field": "x2"},
      "y": {"datum": 0, "type": "quantitative", "axis": {"title": null}},
      "y2": {"datum": 150}
    }
  },
  {
    "data": {"name": "dots"},
    "mark": {"type": "square", "size": 4, "color": "#000000", "opacity": 1, "filled": true},
    "encoding": {
      "x": {"field": "x", "type": "quantitative", "axis": {"title": null}},
      "y": {"field": "y", "type": "quantitative", "axis": {"title": null}}
    }
  },
  {
    "data": {"name": "notes"},
    "transform": [{"filter": {"field": "label", "equal": "t"}}],
    "mark": {"type": "text", "font": "Liberation Serif", "fontStyle": "italic", "fontSize": 60, "align": "center", "baseline": "alphabetic", "color": "#000000"},
    "encoding": {
      "text": {"field": "label"},
      "x": {"field": "x", "type": "quantitative", "axis": {"title": null}},
      "y": {"field": "y", "type": "quantitative", "axis": {"title": null}}
    }
  },
  {
    "data": {"name": "notes"},
    "transform": [{"filter": {"field": "label", "equal": "="}}],
    "mark": {"type": "text", "font": "Liberation Serif", "fontSize": 72, "align": "center", "baseline": "alphabetic", "color": "#000000"},
    "encoding": {
      "text": {"field": "label"},
      "x": {"field": "x", "type": "quantitative", "axis": {"title": null}},
      "y": {"field": "y", "type": "quantitative", "axis": {"title": null}}
    }
  },
  {
    "data": {"name": "notes"},
    "transform": [{"filter": {"field": "label", "equal": "0"}}],
    "mark": {"type": "text", "font": "Liberation Serif", "fontSize": 60, "align": "center", "baseline": "alphabetic", "color": "#000000"},
    "encoding": {
      "text": {"field": "label"},
      "x": {"field": "x", "type": "quantitative", "axis": {"title": null}},
      "y": {"field": "y", "type": "quantitative", "axis": {"title": null}}
    }
  },
  {
    "data": {"name": "notes"},
    "transform": [{"filter": {"field": "label", "equal": "air"}}],
    "mark": {"type": "text", "font": "Liberation Sans", "fontSize": 54, "align": "center", "baseline": "alphabetic", "color": "#000000"},
    "encoding": {
      "text": {"field": "label"},
      "x": {"field": "x", "type": "quantitative", "axis": {"title": null}},
      "y": {"field": "y", "type": "quantitative", "axis": {"title": null}}
    }
  }
]
}
